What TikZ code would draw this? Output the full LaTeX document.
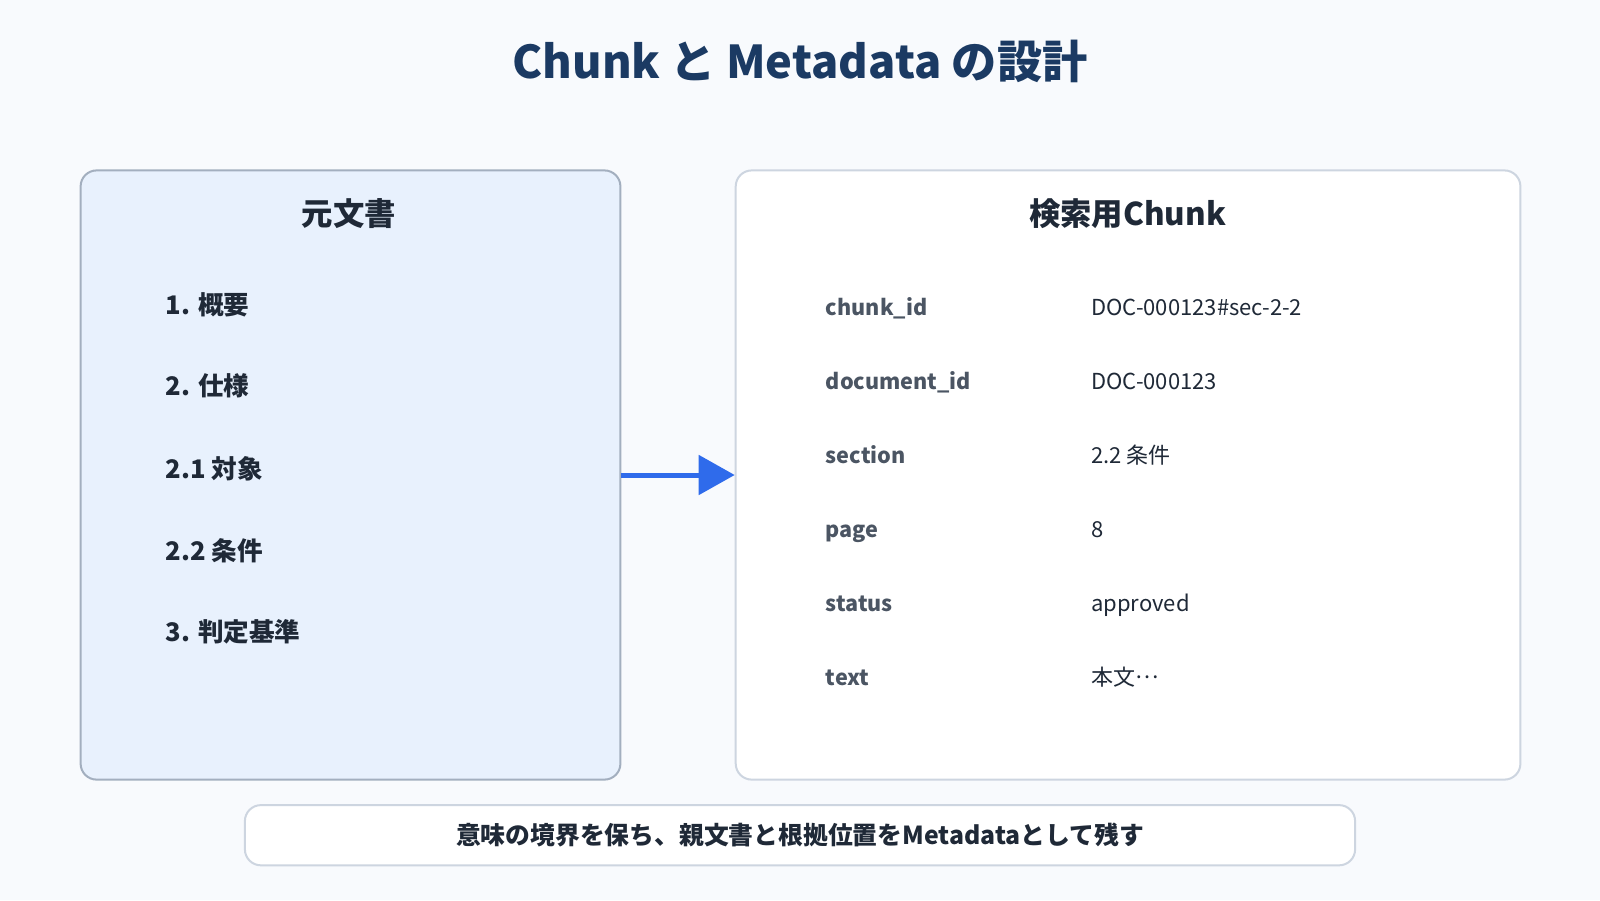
\documentclass[tikz,border=0pt]{standalone}
\usepackage{fontspec}
\setmainfont{Noto Sans CJK JP}
\usetikzlibrary{arrows.meta}

\definecolor{bgcol}{HTML}{F8FAFD}
\definecolor{srcfill}{HTML}{E8F1FD}
\definecolor{srcline}{HTML}{A3AFBF}
\definecolor{dstline}{HTML}{CDD5E0}
\definecolor{titlecol}{HTML}{1B3A63}
\definecolor{inkcol}{HTML}{1F2937}
\definecolor{keycol}{HTML}{4B5563}
\definecolor{arrowcol}{HTML}{2F6BEB}
\def\unitpx{0.5102pt}

\begin{document}
\begin{tikzpicture}[x=\unitpx,y=-\unitpx,
  box/.style={draw, rounded corners=8pt, line width=1pt, inner sep=0pt},
  head/.style={font=\fontsize{15.7}{19}\selectfont\bfseries, text=inkcol},
  item/.style={anchor=west, inner sep=0pt, text height=0.8em, text depth=0.2em, font=\fontsize{12.8}{15}\selectfont\bfseries, text=inkcol},
  key/.style={anchor=west, inner sep=0pt, text height=0.8em, text depth=0.2em, font=\fontsize{10.8}{13}\selectfont\bfseries, text=keycol},
  val/.style={anchor=west, inner sep=0pt, text height=0.8em, text depth=0.2em, font=\fontsize{11}{13}\selectfont, text=inkcol}]
\useasboundingbox[fill=bgcol] (0,0) rectangle (1568,882);
\node[font=\fontsize{22.6}{27}\selectfont\bfseries, text=titlecol] (title) at (784,60) {Chunk と Metadata の設計};
% the two boxes
\node[box, fill=srcfill, draw=srcline, minimum width=529*\unitpx, minimum height=597*\unitpx] (src) at (343.5,465.5) {};
\node[box, fill=white, draw=dstline, minimum width=769*\unitpx, minimum height=597*\unitpx] (dst) at (1105.5,465.5) {};
\node[head] (srchead) at (342,209) {元文書};
\node[head] (dsthead) at (1105,209) {検索用Chunk};
% left items
\node[item] (s1) at (162,302) {1. 概要};
\node[item] (s2) at (162,382) {2. 仕様};
\node[item] (s3) at (162,463) {2.1 対象};
\node[item] (s4) at (162,543) {2.2 条件};
\node[item] (s5) at (162,623) {3. 判定基準};
% right fields
\node[key] (k1) at (809,303) {chunk\_id};
\node[key] (k2) at (809,376) {document\_id};
\node[key] (k3) at (809,448) {section};
\node[key] (k4) at (809,521) {page};
\node[key] (k5) at (809,593) {status};
\node[key] (k6) at (809,666) {text};
\node[val] (v1) at (1069,303) {DOC-000123\#sec-2-2};
\node[val] (v2) at (1069,376) {DOC-000123};
\node[val] (v3) at (1069,448) {2.2 条件};
\node[val] (v4) at (1069,521) {8};
\node[val] (v5) at (1069,593) {approved};
\node[val] (v6) at (1069,666) {本文\raisebox{0.32em}{…}};
\draw[arrowcol, line width=2.5pt, -{Triangle[length=18pt,width=19.5pt]}] (src.east) -- (dst.west);
% bottom note
\node[box, fill=white, draw=dstline, minimum width=1088*\unitpx, minimum height=59*\unitpx,
  font=\fontsize{12.4}{15}\selectfont\bfseries, text=inkcol] (note) at (784,818.5) {意味の境界を保ち、親文書と根拠位置をMetadataとして残す};
\end{tikzpicture}
\end{document}
